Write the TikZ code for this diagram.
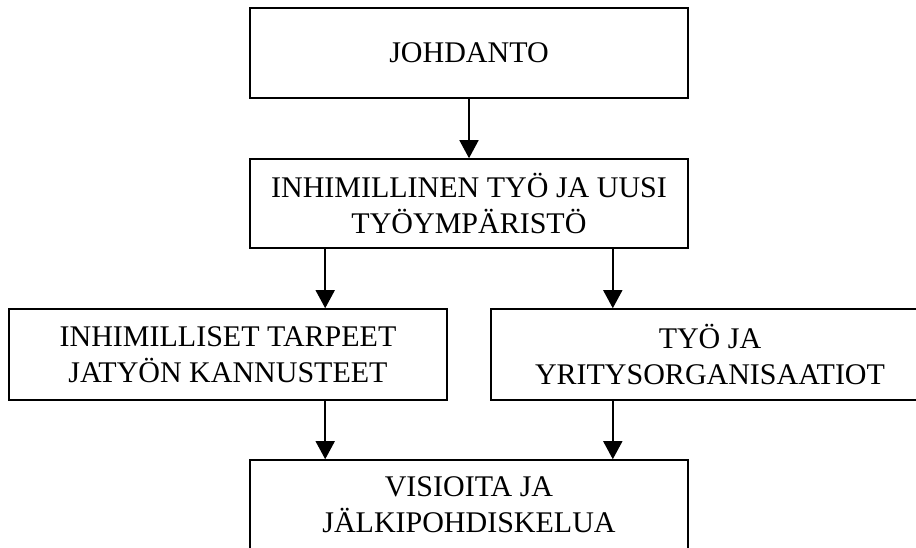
\documentclass[tikz,border=0pt]{standalone}
\usepackage{fontspec}
\setmainfont{Liberation Serif}
\usetikzlibrary{arrows.meta}
\begin{document}
\begin{tikzpicture}[x=1pt,y=1pt,
  box/.style={draw=black, line width=1.6pt, minimum width=438pt, inner sep=0pt,
    align=center, font=\fontsize{30}{36}\selectfont, fill=white},
  arr/.style={line width=1.6pt, -{Triangle[width=19pt,length=18pt]}}]
  \useasboundingbox (0,0) rectangle (916,-548);
  \clip (0,0) rectangle (916,-548);
  \fill[white] (0,0) rectangle (916,-548);

  % chapter boxes
  \node[box, minimum height=90pt] (intro) at (469,-53) {JOHDANTO};
  \node[box, minimum height=89pt] (work) at (469,-203.5)
    {INHIMILLINEN TYÖ JA UUSI\\TYÖYMPÄRISTÖ};
  \node[box, minimum height=91pt] (needs) at (228,-354.5)
    {INHIMILLISET TARPEET\\JATYÖN KANNUSTEET};
  \node[box, minimum height=91pt] (orgs) at (710,-354.5)
    {TYÖ JA\\YRITYSORGANISAATIOT};
  \node[box, minimum height=90pt] (visions) at (469,-505)
    {VISIOITA JA\\JÄLKIPOHDISKELUA};

  % drop points under the second box
  \coordinate (dl) at ([xshift=76pt]work.south west);
  \coordinate (dr) at ([xshift=-76pt]work.south east);

  % connectors
  \draw[arr] (intro) -- (work);
  \draw[arr] (dl) -- (dl |- needs.north);
  \draw[arr] (dr) -- (dr |- orgs.north);
  \draw[arr] (dl |- needs.south) -- (dl |- visions.north);
  \draw[arr] (dr |- orgs.south) -- (dr |- visions.north);
\end{tikzpicture}
\end{document}
